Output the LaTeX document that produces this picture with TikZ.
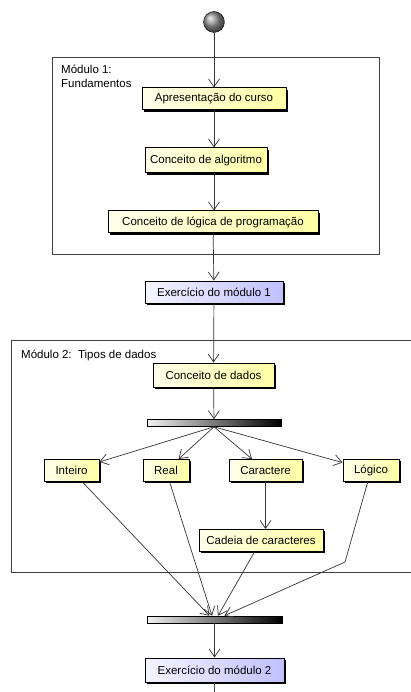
\documentclass[tikz,border=0pt]{standalone}
\usepackage{fontspec}
\setmainfont{Liberation Sans}
\usetikzlibrary{arrows.meta, shadows}

\begin{document}
\begin{tikzpicture}[x=1pt, y=-1pt,
		every node/.style={font=\fontsize{11.5}{13.5}\selectfont},
		act/.style={draw, line width=1pt, inner sep=0pt, minimum height=22pt, left color=yellow!8, right color=yellow!35, drop shadow={opacity=1, fill=black, shadow xshift=1.6pt, shadow yshift=-1.6pt}},
		ex/.style={act, left color=blue!4, right color=blue!25},
		bar/.style={draw, line width=0.6pt, inner sep=0pt, minimum height=7pt, left color=gray!10, right color=black},
		flow/.style={draw=black!80, line width=0.7pt, -{Straight Barb[length=8pt, width=11pt]}},
		frame/.style={draw=black!75, line width=0.7pt}]
		\useasboundingbox (0,0) rectangle (411,692);

		\node[circle, draw, inner sep=0pt, minimum size=21pt, ball color=gray!85] (start) at (214,22) {};

		\draw[frame] (52,57) rectangle (379,254);
		\node[anchor=north west, align=left, inner sep=0pt] (m1) at (61,65) {Módulo 1:\\Fundamentos};

		\node[act, minimum width=144pt] (apres) at (214,99) {Apresentação do curso};
		\node[act, minimum width=122pt, minimum height=25pt] (algo) at (206,160.5) {Conceito de algoritmo};
		\node[act, minimum width=210pt] (logica) at (213,222) {Conceito de lógica de programação};
		\node[ex, minimum width=138pt] (ex1) at (214,292) {Exercício do módulo 1};

		\draw[frame] (411,340) -- (11,340) -- (11,572) -- (411,572);
		\node[anchor=base west, inner sep=0pt] (m2) at (21,358) {Módulo 2:\ \ Tipos de dados};

		\node[act, minimum width=121pt, minimum height=24pt] (dados) at (213.5,375) {Conceito de dados};
		\node[bar, minimum width=134pt] (fork) at (214,423) {};
		\node[act, minimum width=55pt] (inteiro) at (71.5,470.5) {Inteiro};
		\node[act, minimum width=46pt] (real) at (166,470.5) {Real};
		\node[act, minimum width=73pt] (caract) at (265.5,470.5) {Caractere};
		\node[act, minimum width=56pt] (logico) at (371,470.5) {Lógico};
		\node[act, minimum width=124pt] (cadeia) at (261,540.5) {Cadeia de caracteres};
		\node[bar, minimum width=135pt] (join) at (214.5,619.5) {};
		\node[ex, minimum width=139pt, minimum height=24pt] (ex2) at (214.5,670) {Exercício do módulo 2};
		\coordinate (dobra) at (345,562);
		\coordinate (fim) at (214.5,692);

		\draw[flow] (start) -- (apres);
		\draw[flow] (apres) -- (apres.south |- algo.north);
		\draw[flow] (apres.south |- algo.south) -- (apres.south |- logica.north);
		\draw[flow] (logica) -- (ex1);
		\draw[flow] (ex1) -- (dados);
		\draw[flow] (dados) -- (fork);
		\foreach \tipo in {inteiro, real, caract, logico}
			\draw[flow] (fork.south) -- (\tipo);
		\draw[flow] (caract.south) -- (caract.south |- cadeia.north);
		\draw[flow] (inteiro) -- ([xshift=-5pt]join.north);
		\draw[flow] (real) -- ([xshift=-2.5pt]join.north);
		\draw[flow] (cadeia) -- ([xshift=3.5pt]join.north);
		\draw[flow] (logico) -- (dobra) -- ([xshift=10pt]join.north);
		\draw[flow] (join) -- (ex2);
		\draw[frame] (ex2) -- (fim);
	\end{tikzpicture}
\end{document}
